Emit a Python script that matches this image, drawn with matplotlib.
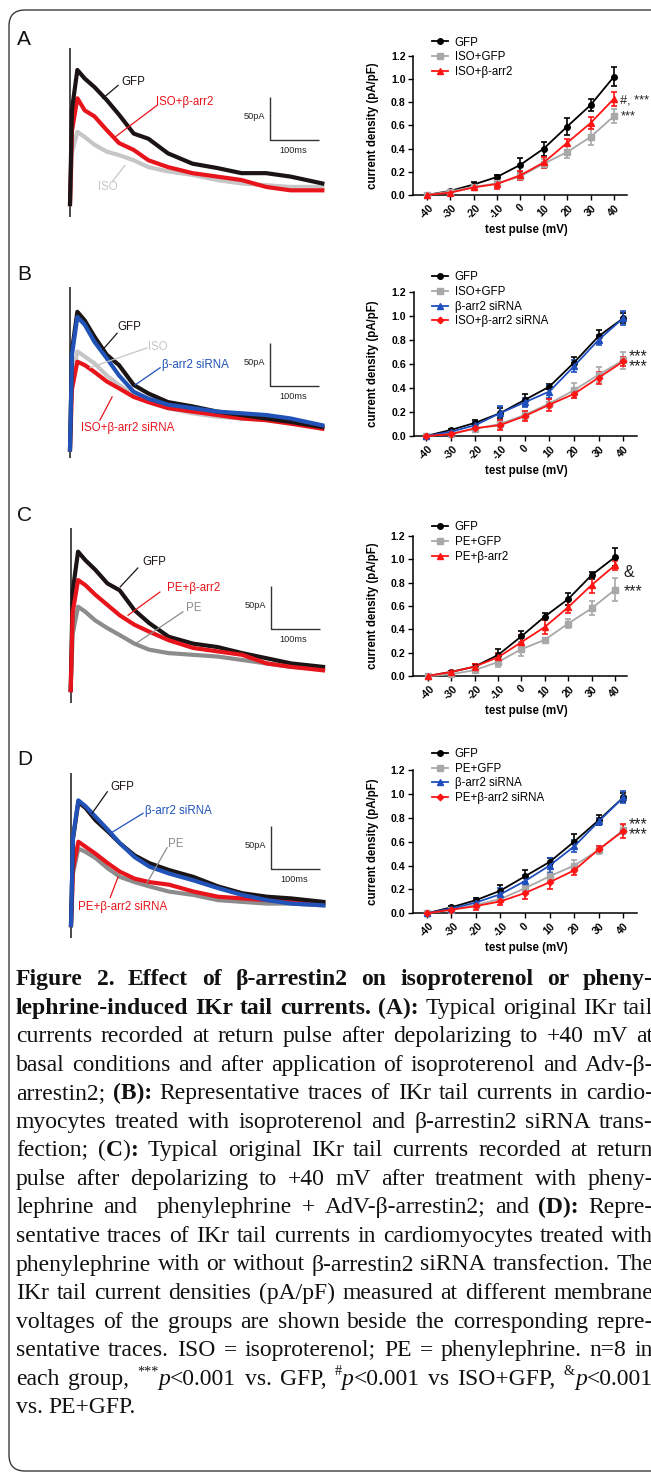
import matplotlib
matplotlib.use("Agg")
import matplotlib.pyplot as plt
from matplotlib.patches import FancyBboxPatch
from matplotlib.lines import Line2D

W, H = 651, 1474
SANS = ["Liberation Sans", "DejaVu Sans"]
SERIF = ["Liberation Serif", "DejaVu Serif"]

# ---------------- data: I-V curves (current density, pA/pF) ----------------
voltage_mV = [-40, -30, -20, -10, 0, 10, 20, 30, 40]
voltage_labels = ["-40", "-30", "-20", "-10", "0", "10", "20", "30", "40"]
density_ticks = [0.0, 0.2, 0.4, 0.6, 0.8, 1.0, 1.2]

A_gfp = [0.00, 0.035, 0.09, 0.155, 0.26, 0.40, 0.59, 0.775, 1.02]
A_gfp_err = [0.005, 0.01, 0.02, 0.02, 0.06, 0.06, 0.07, 0.05, 0.08]
A_iso_gfp = [0.00, 0.03, 0.07, 0.10, 0.16, 0.27, 0.37, 0.50, 0.68]
A_iso_gfp_err = [0.005, 0.01, 0.02, 0.03, 0.03, 0.04, 0.05, 0.07, 0.06]
A_iso_arr2 = [0.00, 0.02, 0.065, 0.095, 0.17, 0.28, 0.45, 0.62, 0.83]
A_iso_arr2_err = [0.005, 0.01, 0.02, 0.04, 0.04, 0.05, 0.03, 0.05, 0.06]

B_gfp = [0.00, 0.05, 0.11, 0.19, 0.30, 0.41, 0.61, 0.83, 0.98]
B_gfp_err = [0.005, 0.01, 0.02, 0.04, 0.05, 0.02, 0.05, 0.05, 0.04]
B_iso_gfp = [0.00, 0.02, 0.06, 0.10, 0.175, 0.27, 0.38, 0.51, 0.63]
B_iso_gfp_err = [0.005, 0.01, 0.02, 0.03, 0.03, 0.04, 0.06, 0.06, 0.07]
B_sirna = [0.00, 0.035, 0.09, 0.19, 0.28, 0.37, 0.58, 0.80, 0.98]
B_sirna_err = [0.005, 0.01, 0.03, 0.06, 0.04, 0.05, 0.05, 0.04, 0.06]
B_iso_sirna = [0.00, 0.015, 0.065, 0.09, 0.165, 0.26, 0.35, 0.485, 0.62]
B_iso_sirna_err = [0.005, 0.01, 0.03, 0.04, 0.04, 0.05, 0.03, 0.05, 0.04]

C_gfp = [0.00, 0.035, 0.08, 0.18, 0.34, 0.51, 0.66, 0.865, 1.02]
C_gfp_err = [0.005, 0.01, 0.02, 0.05, 0.05, 0.03, 0.05, 0.03, 0.08]
C_pe_gfp = [0.00, 0.015, 0.05, 0.12, 0.23, 0.31, 0.45, 0.58, 0.74]
C_pe_gfp_err = [0.005, 0.01, 0.02, 0.04, 0.06, 0.02, 0.04, 0.06, 0.10]
C_pe_arr2 = [0.00, 0.035, 0.08, 0.16, 0.29, 0.42, 0.59, 0.78, 0.95]
C_pe_arr2_err = [0.005, 0.01, 0.02, 0.04, 0.06, 0.06, 0.05, 0.07, 0.04]

D_gfp = [0.00, 0.05, 0.11, 0.19, 0.31, 0.43, 0.60, 0.78, 0.97]
D_gfp_err = [0.005, 0.01, 0.02, 0.05, 0.05, 0.03, 0.06, 0.04, 0.04]
D_pe_gfp = [0.00, 0.03, 0.07, 0.12, 0.21, 0.31, 0.40, 0.53, 0.70]
D_pe_gfp_err = [0.005, 0.01, 0.02, 0.02, 0.04, 0.04, 0.05, 0.03, 0.04]
D_sirna = [0.00, 0.04, 0.09, 0.16, 0.27, 0.40, 0.56, 0.77, 0.97]
D_sirna_err = [0.005, 0.01, 0.03, 0.05, 0.05, 0.06, 0.05, 0.03, 0.05]
D_pe_sirna = [0.00, 0.03, 0.06, 0.10, 0.17, 0.26, 0.36, 0.535, 0.69]
D_pe_sirna_err = [0.005, 0.01, 0.03, 0.03, 0.05, 0.06, 0.04, 0.03, 0.06]

# ---------------- data: representative tail-current traces (ms, pA) ----------------
trace_t_ms = [0, 4, 15, 30, 50, 75, 100, 130, 160, 200, 250, 300, 350, 400, 450, 515]

A_tr_gfp = [15, 125, 171, 161, 151, 136, 119, 97, 91, 74, 62, 57, 51, 51, 47, 39]
A_tr_iso_arr2 = [15, 100, 138, 124, 117, 101, 86, 78, 66, 58, 51, 47, 43, 35, 31, 31]
A_tr_iso = [15, 75, 99, 93, 84, 76, 72, 66, 58, 53, 49, 43, 39, 37, 35, 35]

B_tr_gfp = [10, 125, 170, 160, 141, 120, 108, 85, 75, 65, 60, 54, 50, 46, 42, 36]
B_tr_sirna = [10, 120, 164, 155, 135, 116, 96, 77, 69, 62, 58, 54, 52, 50, 46, 38]
B_tr_iso = [10, 90, 124, 118, 110, 96, 85, 73, 65, 58, 52, 48, 46, 44, 40, 36]
B_tr_iso_sirna = [10, 80, 112, 108, 100, 89, 81, 71, 65, 58, 54, 50, 46, 44, 40, 34]

C_tr_gfp = [15, 130, 176, 166, 155, 139, 131, 108, 93, 77, 69, 65, 58, 52, 46, 42]
C_tr_pe_arr2 = [15, 105, 143, 137, 126, 114, 102, 91, 83, 73, 64, 60, 56, 46, 42, 38]
C_tr_pe = [15, 80, 112, 106, 96, 87, 79, 69, 62, 58, 56, 54, 50, 46, 42, 40]

D_tr_gfp = [15, 115, 158, 151, 137, 124, 110, 96, 87, 79, 71, 60, 52, 48, 46, 42]
D_tr_sirna = [15, 117, 160, 153, 141, 126, 110, 94, 83, 75, 67, 58, 50, 44, 40, 38]
D_tr_pe_sirna = [15, 80, 112, 106, 98, 87, 77, 69, 65, 62, 54, 48, 46, 44, 42, 40]
D_tr_pe = [15, 75, 104, 100, 93, 81, 71, 65, 60, 54, 50, 44, 42, 40, 40, 38]

# capacitive artefact height (pA) for each panel
spike_top_pA = {"A": 196, "B": 199, "C": 203, "D": 192}
scale_ms, scale_pA = 100, 50

# ---------------- figure ----------------
fig = plt.figure(figsize=(W / 100, H / 100), dpi=100)


def fbox(l, t, r, b):
    return [l / W, 1 - b / H, (r - l) / W, (b - t) / H]


bg = fig.add_axes([0, 0, 1, 1])
bg.set_xlim(0, W)
bg.set_ylim(H, 0)
bg.axis("off")

bg.add_patch(FancyBboxPatch((9, 10), 700, 1461,
                            boxstyle="round,pad=0,rounding_size=16",
                            fc="none", ec="#3a3a3a", lw=1.0))

for letter, xb, yb in [("A", 17, 44.5), ("B", 17, 280), ("C", 17, 521), ("D", 17, 765)]:
    bg.text(xb, yb, letter, fontfamily=SANS, fontsize=15, va="baseline", ha="left", color="#111")

# ---------------- traces ----------------
PX_MS, PX_PA = 0.49, 0.86
K_BLACK, K_RED, K_LGRAY, K_MGRAY, K_BLUE = "#1c1414", "#e8141c", "#c6c6c6", "#8c8c8c", "#2152b8"


def trace_panel(key, x0, base, traces, labels, scale_at):
    ax = fig.add_axes(fbox(x0 - 12, base - 205, x0 + 275, base + 8))
    ax.set_xlim(-12 / PX_MS, 275 / PX_MS)
    ax.set_ylim(-8 / PX_PA, 205 / PX_PA)
    ax.axis("off")
    ax.vlines(0, 0, spike_top_pA[key], color="#4a4a4a", lw=1.4, zorder=1)
    for vals, col in traces:
        ax.plot(trace_t_ms, vals, color=col, lw=3.0, solid_joinstyle="round", zorder=2)
    for text, col, tpos, p1, p2 in labels:
        ax.plot([p1[0], p2[0]], [p1[1], p2[1]], color=col, lw=0.9, zorder=5)
        ax.text(tpos[0], tpos[1], text, color=col, fontfamily=SANS, fontsize=8.3,
                ha="center", va="center", zorder=6)
    ts, ps = scale_at
    ax.plot([ts, ts, ts + scale_ms], [ps + scale_pA, ps, ps], color="#333", lw=1.0,
            solid_capstyle="butt")
    ax.text(ts - 10, ps + scale_pA / 2 + 2, f"{scale_pA}pA", fontfamily=SANS, fontsize=6.6,
            ha="right", va="center", color="#222")
    ax.text(ts + scale_ms / 2 - 3, ps - 12, f"{scale_ms}ms", fontfamily=SANS, fontsize=6.6,
            ha="center", va="center", color="#222")


trace_panel("A", 70, 217,
            [(A_tr_iso, K_LGRAY), (A_tr_iso_arr2, K_RED), (A_tr_gfp, K_BLACK)],
            [("GFP", K_BLACK, (129, 157), (98, 153), (67, 138)),
             ("ISO+β-arr2", K_RED, (235, 134), (178, 130), (92, 93)),
             ("ISO", K_LGRAY, (78, 35), (86, 41), (112, 60))],
            (408, 89.5))

trace_panel("B", 70, 458,
            [(B_tr_iso, K_LGRAY), (B_tr_iso_sirna, K_RED), (B_tr_gfp, K_BLACK), (B_tr_sirna, K_BLUE)],
            [("GFP", K_BLACK, (122, 152), (96, 145), (67, 126)),
             ("ISO", K_LGRAY, (180, 129), (157, 128), (41, 105)),
             ("β-arr2 siRNA", K_BLUE, (255, 108), (184, 105), (133, 85)),
             ("ISO+β-arr2 siRNA", K_RED, (118, 35), (61, 44), (86, 71))],
            (408, 83.7))

trace_panel("C", 70.7, 703,
            [(C_tr_pe, K_MGRAY), (C_tr_gfp, K_BLACK), (C_tr_pe_arr2, K_RED)],
            [("GFP", K_BLACK, (170, 164), (137, 157), (101, 135)),
             ("PE+β-arr2", K_RED, (250, 134), (182, 129), (117, 102)),
             ("PE", K_MGRAY, (252, 110), (229, 106), (135, 70))],
            (408, 86))

trace_panel("D", 71, 938,
            [(D_tr_pe, K_MGRAY), (D_tr_pe_sirna, K_RED), (D_tr_gfp, K_BLACK), (D_tr_sirna, K_BLUE)],
            [("GFP", K_BLACK, (104, 176), (74, 170), (43, 145)),
             ("β-arr2 siRNA", K_BLUE, (220, 148), (147, 145), (84, 123)),
             ("PE", K_MGRAY, (214, 109), (196, 105), (155, 64)),
             ("PE+β-arr2 siRNA", K_RED, (106, 36), (80, 47), (96, 71))],
            (408, 80))

# ---------------- I-V charts ----------------
C_BLACK, C_GRAY, C_RED, C_BLUE = "#000000", "#a8a8a8", "#ff1414", "#1f4fbf"


def iv_chart(box, xlim, series, legend_xy, sigs):
    ax = fig.add_axes(fbox(*box))
    ax.patch.set_alpha(0)
    handles = []
    for vals, errs, col, mk, ms, lab in series:
        cont = ax.errorbar(voltage_mV, vals, yerr=errs, color=col, marker=mk, ms=ms, lw=1.3,
                           elinewidth=1.2, capsize=2.2, capthick=1.2, zorder=3)
        for art in cont.get_children():
            art.set_clip_on(False)
        handles.append(Line2D([], [], color=col, marker=mk, ms=ms, lw=1.3, label=lab))
    ax.set_xlim(*xlim)
    ax.set_ylim(0, 1.2)
    ax.set_xticks(voltage_mV)
    ax.set_xticklabels(voltage_labels, rotation=45, ha="center")
    ax.set_yticks(density_ticks)
    ax.set_yticklabels([f"{v:.1f}" for v in density_ticks])
    for s in ("top", "right"):
        ax.spines[s].set_visible(False)
    for s in ("left", "bottom"):
        ax.spines[s].set_linewidth(1.1)
    ax.tick_params(direction="out", length=3.5, width=1.0, pad=2)
    for lab in ax.get_xticklabels() + ax.get_yticklabels():
        lab.set_fontfamily(SANS)
        lab.set_fontsize(7.6)
        lab.set_fontweight("bold")
    hpx = box[3] - box[1]
    wpx = box[2] - box[0]
    ax.set_ylabel("current density (pA/pF)", fontfamily=SANS, fontsize=8.3, fontweight="bold",
                  va="center")
    ax.yaxis.set_label_coords((373 - box[0]) / wpx, 0.5)
    ax.set_xlabel("test pulse (mV)", fontfamily=SANS, fontsize=8.3, fontweight="bold",
                  va="center")
    ax.xaxis.set_label_coords((526 - box[0]) / wpx, -35 / hpx)
    ax.legend(handles=handles, loc="upper left", bbox_to_anchor=(legend_xy[0] / W, 1 - legend_xy[1] / H),
              bbox_transform=fig.transFigure, frameon=False, borderpad=0, borderaxespad=0,
              handlelength=1.45, handletextpad=0.55, labelspacing=0.22,
              prop=dict(family=SANS, size=8.3))
    for txt, x, yb, ls, fs in sigs:
        bg.text(x, yb, txt, fontfamily=SANS, fontsize=fs, ha="left", va="baseline",
                color="#222", linespacing=ls)
    return ax


iv_chart((413.3, 55.7, 627, 195), (-45.72, 45.55),
         [(A_gfp, A_gfp_err, C_BLACK, "o", 4, "GFP"),
          (A_iso_gfp, A_iso_gfp_err, C_GRAY, "s", 4, "ISO+GFP"),
          (A_iso_arr2, A_iso_arr2_err, C_RED, "^", 4.5, "ISO+β-arr2")],
         (431.7, 36.5),
         [("#, ***\n***", 620.5, 119, 1.35, 9.2)])

iv_chart((414, 291.7, 637, 436), (-44.9, 45.57),
         [(B_gfp, B_gfp_err, C_BLACK, "o", 4, "GFP"),
          (B_iso_gfp, B_iso_gfp_err, C_GRAY, "s", 4, "ISO+GFP"),
          (B_sirna, B_sirna_err, C_BLUE, "^", 4.5, "β-arr2 siRNA"),
          (B_iso_sirna, B_iso_sirna_err, C_RED, "D", 3.3, "ISO+β-arr2 siRNA")],
         (431.7, 271.5),
         [("***\n***", 629, 371, 0.6, 11.5)])

iv_chart((413, 536, 627, 676), (-46.3, 45.1),
         [(C_gfp, C_gfp_err, C_BLACK, "o", 4, "GFP"),
          (C_pe_gfp, C_pe_gfp_err, C_GRAY, "s", 4, "PE+GFP"),
          (C_pe_arr2, C_pe_arr2_err, C_RED, "^", 4.5, "PE+β-arr2")],
         (431.7, 521.5),
         [("&\n***", 624, 596, 1.3, 11.5)])

iv_chart((413, 770, 637, 913.3), (-45.6, 45.57),
         [(D_gfp, D_gfp_err, C_BLACK, "o", 4, "GFP"),
          (D_pe_gfp, D_pe_gfp_err, C_GRAY, "s", 4, "PE+GFP"),
          (D_sirna, D_sirna_err, C_BLUE, "^", 4.5, "β-arr2 siRNA"),
          (D_pe_sirna, D_pe_sirna_err, C_RED, "D", 3.3, "PE+β-arr2 siRNA")],
         (431.7, 748),
         [("***\n***", 629, 839, 0.55, 11.5)])

# ---------------- caption (justified) ----------------
caption = [
    [("Figure 2. Effect of β-arrestin2 on isoproterenol or pheny-", "b")],
    [("lephrine-induced IKr tail currents. (A):", "b"), (" Typical original IKr tail", "r")],
    [("currents recorded at return pulse after depolarizing to +40 mV at", "r")],
    [("basal conditions and after application of isoproterenol and Adv-β-", "r")],
    [("arrestin2; ", "r"), ("(B):", "b"), (" Representative traces of IKr tail currents in cardio-", "r")],
    [("myocytes treated with isoproterenol and β-arrestin2 siRNA trans-", "r")],
    [("fection; (", "r"), ("C", "b"), (")", "r"), (":", "b"),
     (" Typical original IKr tail currents recorded at return", "r")],
    [("pulse after depolarizing to +40 mV after treatment with pheny-", "r")],
    [("lephrine and  phenylephrine + AdV-β-arrestin2; and ", "r"), ("(D):", "b"), (" Repre-", "r")],
    [("sentative traces of IKr tail currents in cardiomyocytes treated with", "r")],
    [("phenylephrine with or without β-arrestin2 siRNA transfection. The", "r")],
    [("IKr tail current densities (pA/pF) measured at different membrane", "r")],
    [("voltages of the groups are shown beside the corresponding repre-", "r")],
    [("sentative traces. ISO = isoproterenol; PE = phenylephrine. n=8 in", "r")],
    [("each group, ", "r"), ("***", "s"), ("p", "i"), ("<0.001 vs. GFP, ", "r"), ("#", "s"), ("p", "i"),
     ("<0.001 vs ISO+GFP, ", "r"), ("&", "s"), ("p", "i"), ("<0.001", "r")],
    [("vs. PE+GFP.", "r")],
]

renderer = fig.canvas.get_renderer()


def props(style, size):
    d = dict(fontfamily=SERIF, fontsize=size, color="#111")
    if style == "b":
        d["fontweight"] = "bold"
    elif style == "i":
        d["fontstyle"] = "italic"
    elif style == "s":
        d["fontsize"] = size * 0.6
    return d


def measure(s, style, size):
    t = bg.text(0, 0, s, **props(style, size))
    w = t.get_window_extent(renderer).width
    t.remove()
    return w


def split_words(line):
    words = [[]]
    for text, style in line:
        parts = text.split(" ")
        for k, p in enumerate(parts):
            if k > 0:
                words.append([])
            if p:
                words[-1].append((p, style))
    while words and not words[-1]:
        words.pop()
    return words


CAP_L, CAP_R = 16, 653
size = 17.0
space_w = measure("a a", "r", size) - measure("aa", "r", size)
max_nat = 0
for line in caption:
    ws = split_words(line)
    tot = sum(measure(p, st, size) for w in ws for p, st in w) + 0.8 * space_w * (len(ws) - 1)
    max_nat = max(max_nat, tot)
if max_nat > CAP_R - CAP_L:
    size *= (CAP_R - CAP_L) / max_nat
space_w = measure("a a", "r", size) - measure("aa", "r", size)

for i, line in enumerate(caption):
    baseline = 985 + 28.55 * i
    ws = split_words(line)
    widths = [[measure(p, st, size) if p else 0 for p, st in w] for w in ws]
    tot = sum(sum(w) for w in widths)
    last = i == len(caption) - 1
    gap = space_w if last or len(ws) < 2 else (CAP_R - CAP_L - tot) / (len(ws) - 1)
    x = CAP_L
    for w, wl in zip(ws, widths):
        for (p, st), pw in zip(w, wl):
            yoff = -size * 0.55 if st == "s" else 0
            bg.text(x, baseline + yoff, p, ha="left", va="baseline", **props(st, size))
            x += pw
        x += gap

fig.savefig("out.png", dpi=100)
